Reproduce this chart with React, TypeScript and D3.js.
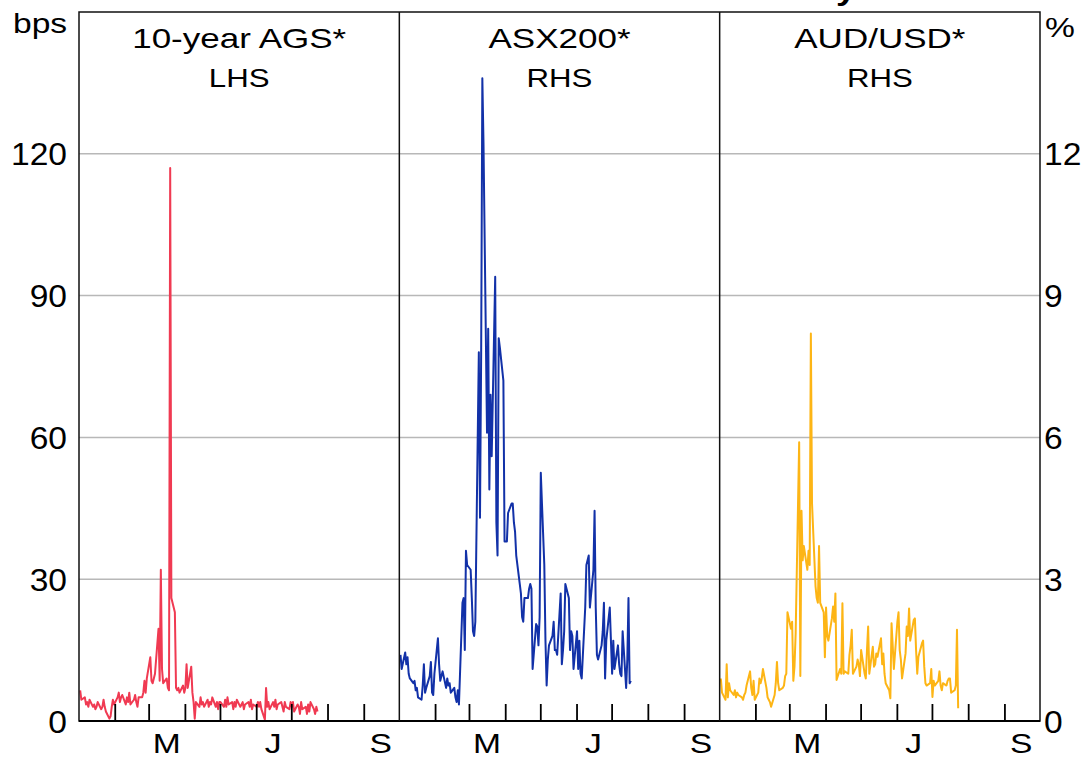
import React from 'react';
import * as d3 from 'd3';

// ---------- data (daily, trading days from 2 Jan 2020) ----------
const agsBps: number[] = [
  // Jan
  6.5, 4.5, 5, 3.5, 4, 3, 4.5, 3, 3.5, 2.5, 3, 4, 2.5, 3, 4.5, 3, 2, 0.5, 1, 3, 4.5, 3.5,
  // Feb
  5, 6, 4, 5, 5.5, 3.5, 5, 4, 6, 3.5, 4.5, 5.5, 4, 3, 5, 5, 6, 8.5, 6, 9,
  // Mar
  13.5, 8.5, 8, 9, 10, 19.5, 8.5, 32, 11, 8, 9, 7, 6.5, 117, 26, 23, 7, 6.5, 7, 6, 7.5, 6,
  // Apr
  7, 12, 7, 11.5, 6, 4, 0.5, 4, 3, 5, 3.5, 4, 3, 4.5, 3, 4, 3.5, 5, 3, 4, 2.5, 4,
  // May
  4, 3, 4.5, 3, 5, 3.5, 4, 2.5, 4, 3, 4.5, 3, 3.5, 4, 2.5, 3.5, 4, 3, 4.5, 2.5, 3.5,
  // Jun
  3, 4, 3, 4, 2.5, 0.3, 7, 3, 4, 2.5, 4, 3, 4.5, 2.5, 3.5, 4, 3, 2, 4, 3, 2.5, 4,
  // Jul
  3, 4, 2, 3.5, 3, 1.5, 4, 2.5, 3, 1.5, 3.5, 2, 4, 2.5, 1.5, 3, 2,
];

const asxPct: number[] = [
  // Jan
  1.4, 1.1, 1.45, 1.2, 1.35, 1.0, 0.9, 0.8, 0.85, 0.65, 0.7, 0.5, 0.45, 0.75, 1.2, 0.6, 0.7, 0.95, 1.25, 0.6, 0.55, 1.0,
  // Feb
  1.75, 1.2, 0.85, 0.95, 1.05, 0.7, 0.9, 0.75, 0.8, 0.6, 0.7, 0.5, 0.4, 0.65, 0.35, 2.5, 2.6, 1.5, 3.6, 3.3,
  // Mar
  3.2, 2.6, 1.9, 1.8, 2.1, 7.8, 4.3, 7.8, 13.6, 12.2, 6.1, 8.3, 4.9, 6.9, 5.6, 9.4, 4.2, 3.5, 8.1, 7.9, 7.2, 3.8,
  // Apr
  3.8, 3.8, 4.4, 4.6, 4.6, 4.2, 4.0, 3.5, 2.9, 2.7, 2.2, 2.1, 2.6, 2.6, 2.8, 2.9, 2.8, 1.1, 2.05, 2.0, 1.6, 2.2,
  // May
  5.25, 3.3, 1.7, 0.75, 1.3, 1.6, 1.8, 2.1, 1.5, 1.5, 1.4, 2.7, 1.2, 1.5, 1.9, 2.9, 2.6, 1.5, 1.9, 1.8, 1.1,
  // Jun
  1.9, 1.1, 1.7, 1.0, 0.9, 2.4, 3.3, 3.4, 3.5, 2.4, 3.2, 4.45, 2.4, 1.4, 1.3, 1.6, 1.9, 2.5, 0.9, 1.7, 2.4, 1.7,
  // Jul
  1.0, 1.7, 1.1, 1.6, 1.2, 1.0, 0.95, 1.9, 0.7, 1.3, 2.6, 0.8, 0.85,
];

const audPct: number[] = [
  // Jan
  0.9, 0.6, 0.45, 1.2, 0.5, 0.8, 0.65, 0.55, 0.65, 0.5, 0.6, 0.55, 0.5, 0.45, 0.55, 0.6, 0.75, 1.05, 0.7, 0.55, 0.85, 0.45,
  // Feb
  0.6, 0.9, 0.8, 0.9, 1.1, 0.7, 0.5, 0.45, 0.4, 0.3, 0.55, 0.8, 1.25, 0.8, 0.65, 0.7, 0.75, 0.95, 1.0, 2.3,
  // Mar
  1.95, 2.1, 0.85, 1.15, 1.85, 5.9, 0.95, 4.45, 3.4, 3.7, 3.2, 3.6, 3.3, 8.2, 4.6, 2.85, 2.6, 2.5, 3.7, 2.5, 2.3, 1.35,
  // Apr
  2.4, 1.8, 1.7, 2.17, 2.42, 2.1, 2.7, 0.87, 1.1, 1.0, 2.49, 1.0, 1.05, 1.0, 1.4, 1.6, 1.93, 1.0, 1.15, 1.3, 1.2, 0.95,
  // May
  1.5, 1.0, 0.9, 1.5, 2.0, 1.0, 1.57, 1.15, 1.2, 1.43, 1.36, 1.75, 1.2, 1.43, 1.0, 0.8, 0.65, 0.48, 2.07, 1.6, 1.1,
  // Jun
  2.1, 2.3, 1.5, 1.3, 0.9, 1.43, 2.0, 1.8, 2.38, 1.7, 2.14, 2.17, 1.5, 1.0, 1.36, 1.64, 1.7, 1.15, 0.8, 0.75, 0.8, 1.1,
  // Jul
  0.51, 0.85, 0.75, 0.85, 1.05, 0.75, 0.65, 0.8, 0.75, 0.85, 0.9, 0.9, 0.6, 0.65, 0.75, 1.93, 0.27,
];

const panelTitles = ['10-year AGS*', 'ASX200*', 'AUD/USD*'];
const panelSides = ['LHS', 'RHS', 'RHS'];
const leftTicks = [0, 30, 60, 90, 120];
const rightTicks = [0, 3, 6, 9, 12];
const quarterLabels = ['M', 'J', 'S'];
const quarterLabelDates = ['2020-03-16', '2020-06-15', '2020-09-15'];

// ---------- layout ----------
const W = 1088;
const H = 760;
const L = 79;
const R = 1040;
const T = 12;
const B = 721;
const SX = 1.2;
const FONT = '"Liberation Sans", Arial, sans-serif';

const panelColors = ['#f03a52', '#1231a8', '#fdb515'];

function tradingDays(n: number): Date[] {
  const out: Date[] = [];
  let d = new Date(2020, 0, 2);
  while (out.length < n) {
    const wd = d.getDay();
    if (wd !== 0 && wd !== 6) out.push(new Date(d));
    d = d3.timeDay.offset(d, 1);
  }
  return out;
}

function Txt(props: {
  x: number; y: number; size: number; anchor?: string; weight?: string | number; sx?: number; children: React.ReactNode;
}) {
  const { x, y, size, anchor = 'start', weight = 'normal', sx = SX, children } = props;
  return (
    <text
      transform={`translate(${x},${y}) scale(${sx},1)`}
      fontSize={size}
      textAnchor={anchor}
      fontWeight={weight}
      fontFamily={FONT}
      fill="#000"
    >
      {children}
    </text>
  );
}

export default function App() {
  const panelEdge = d3.scaleLinear().domain([0, 3]).range([L, R]);
  const yL = d3.scaleLinear().domain([0, 150]).range([B, T]);
  const yR = d3.scaleLinear().domain([0, 15]).range([B, T]);

  const series = [
    { values: agsBps, y: yL },
    { values: asxPct, y: yR },
    { values: audPct, y: yR },
  ];

  const domain: [Date, Date] = [new Date(2020, 0, 1), new Date(2020, 9, 1)];
  const monthTicks = d3.timeMonth.range(new Date(2020, 1, 1), new Date(2020, 9, 1));
  const parse = d3.timeParse('%Y-%m-%d');

  return (
    <svg width={W} height={H} viewBox={`0 0 ${W} ${H}`} style={{ position: 'absolute', left: 0, top: 0, background: '#fff' }}>
      <rect x={0} y={0} width={W} height={H} fill="#fff" />
      {/* chart title, lying above the picture: only the tail of its last letter shows */}
      <Txt x={856} y={-0.5} size={30} anchor="end" weight="bold">Volatility</Txt>

      {/* gridlines */}
      {leftTicks.filter((t) => t > 0).map((t) => (
        <line key={t} x1={L} x2={R} y1={yL(t)} y2={yL(t)} stroke="#b8b8b8" strokeWidth={1.5} />
      ))}

      {[0, 1, 2].map((p) => {
        const x = d3.scaleTime().domain(domain).range([panelEdge(p), panelEdge(p + 1)]);
        const s = series[p];
        const dates = tradingDays(s.values.length);
        const line = d3
          .line<number>()
          .x((_, i) => x(dates[i]))
          .y((v) => s.y(v));
        const cx = (panelEdge(p) + panelEdge(p + 1)) / 2;
        return (
          <g key={p}>
            <path d={line(s.values) || ''} fill="none" stroke={panelColors[p]} strokeWidth={2} strokeLinejoin="round" />
            {monthTicks.map((m, i) => (
              <line key={i} x1={x(m)} x2={x(m)} y1={B} y2={B - 17} stroke="#000" strokeWidth={1.8} />
            ))}
            {quarterLabels.map((lab, i) => (
              <Txt key={lab} x={x(parse(quarterLabelDates[i]) as Date)} y={753} size={28} anchor="middle">{lab}</Txt>
            ))}
            <Txt x={cx} y={48} size={28} anchor="middle" sx={1.25}>{panelTitles[p]}</Txt>
            <Txt x={cx} y={87} size={26} anchor="middle">{panelSides[p]}</Txt>
          </g>
        );
      })}

      {/* frame and panel dividers */}
      <rect x={L} y={T} width={R - L} height={B - T} fill="none" stroke="#111" strokeWidth={1.5} />
      <line x1={L} x2={R} y1={B} y2={B} stroke="#000" strokeWidth={2} />
      {[1, 2].map((p) => (
        <line key={p} x1={panelEdge(p)} x2={panelEdge(p)} y1={T} y2={B} stroke="#111" strokeWidth={1.5} />
      ))}

      {/* axis labels */}
      {leftTicks.map((t) => (
        <Txt key={t} x={67} y={yL(t) + 11.5} size={32} anchor="end" sx={1.05}>{String(t)}</Txt>
      ))}
      {rightTicks.map((t) => (
        <Txt key={t} x={1044} y={yR(t) + 11.5} size={32} anchor="start" sx={1.05}>{String(t)}</Txt>
      ))}
      <Txt x={13} y={33} size={28} anchor="start">bps</Txt>
      <Txt x={1045} y={37} size={28} anchor="start">%</Txt>
    </svg>
  );
}
